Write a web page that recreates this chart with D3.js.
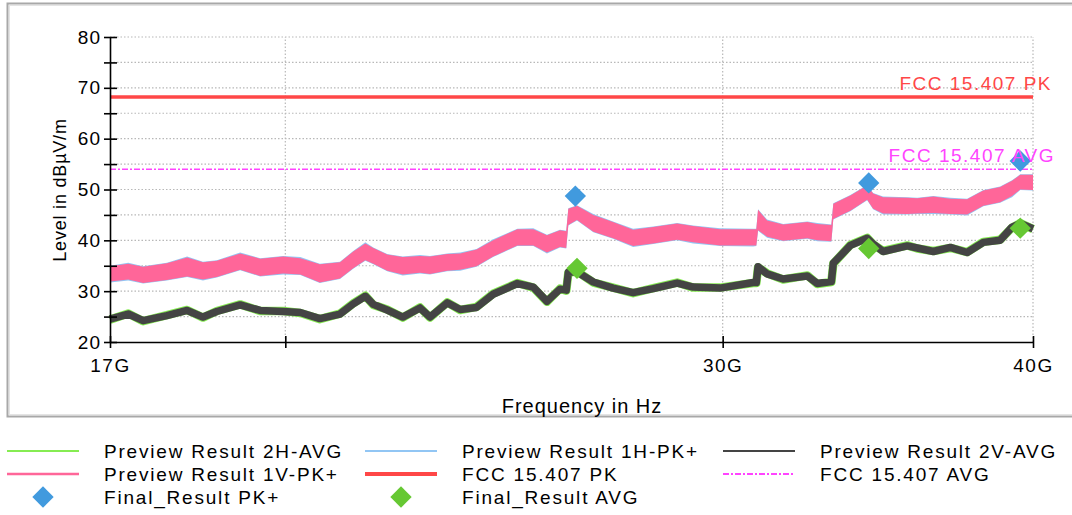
<!DOCTYPE html>
<html>
<head>
<meta charset="utf-8">
<script src="https://cdn.jsdelivr.net/npm/d3@7"></script>
<style>
  html, body { margin: 0; padding: 0; background: #fff; }
  svg text { font-family: "Liberation Sans", Arial, sans-serif; }
</style>
</head>
<body>
<svg id="chart" width="1072" height="515"></svg>
<script>
// Frequency grid of the preview scans, in GHz
const freqGHz = [17.00, 17.29, 17.53, 17.92, 18.26, 18.53, 18.77, 19.18, 19.54, 19.96,
  20.28, 20.65, 21.04, 21.30, 21.54, 21.70, 21.98, 22.30, 22.66, 22.87,
  23.24, 23.52, 23.88, 24.25, 24.80, 25.17, 25.49, 25.80, 25.95, 26.00,
  26.21, 26.61, 27.10, 27.61, 28.13, 28.76, 29.19, 29.93, 30.86, 30.95,
  31.00, 31.26, 31.73, 32.45, 32.75, 33.18, 33.24, 33.77, 34.30, 34.49,
  34.81, 35.60, 35.93, 36.47, 37.05, 37.63, 38.20, 38.80, 39.23, 39.53, 40.00];

// Preview Result 1V-PK+ : min / max envelope of the peak trace (dBµV/m)
const pk1VLo = [31.9, 32.3, 31.6, 32.2, 32.9, 32.3, 32.8, 34.2, 33.0, 33.5,
  33.3, 31.7, 32.5, 34.5, 36.1, 35.4, 34.0, 33.3, 33.6, 33.4,
  34.0, 34.2, 34.9, 36.8, 39.0, 39.0, 37.6, 38.7, 38.5, 43.0,
  44.0, 41.7, 40.4, 38.9, 39.4, 40.1, 39.6, 39.0, 39.0, 39.0,
  42.0, 40.7, 39.9, 40.4, 40.0, 39.8, 44.2, 45.8, 48.0, 46.2,
  45.3, 45.2, 45.3, 45.4, 45.2, 45.1, 46.8, 47.5, 48.7, 50.0, 49.9];
const pk1VHi = [34.9, 35.4, 34.8, 35.5, 36.6, 35.7, 36.0, 37.4, 36.4, 36.8,
  36.5, 35.3, 35.7, 37.8, 39.4, 38.5, 37.2, 36.7, 36.9, 36.8,
  37.3, 37.4, 38.2, 40.0, 42.2, 42.2, 41.0, 42.0, 41.8, 46.2,
  46.8, 45.0, 43.6, 42.1, 42.6, 43.3, 42.8, 42.2, 42.2, 42.2,
  46.0, 43.9, 43.1, 43.6, 43.2, 43.0, 47.2, 48.8, 50.8, 49.2,
  48.5, 48.4, 48.3, 48.6, 48.2, 48.1, 49.8, 50.5, 51.7, 52.9, 52.9];

// Preview Result 1H-PK+ : min / max envelope
const pk1HLo = [31.7, 32.1, 31.5, 32.1, 32.8, 32.1, 32.7, 34.1, 32.9, 33.3,
  33.2, 31.6, 32.4, 34.4, 36.0, 35.3, 33.9, 33.1, 33.5, 33.3,
  33.9, 34.0, 34.8, 36.7, 38.9, 38.9, 37.4, 38.6, 38.4, 42.9,
  43.9, 41.6, 40.3, 38.7, 39.3, 40.0, 39.4, 38.9, 38.8, 38.9,
  41.9, 40.5, 39.8, 40.3, 39.8, 39.7, 44.1, 45.7, 47.9, 46.1,
  45.1, 45.1, 45.2, 45.2, 45.1, 44.9, 46.7, 47.4, 48.5, 49.9, 49.8];
const pk1HHi = [35.0, 35.6, 34.9, 35.6, 36.8, 35.8, 36.1, 37.6, 36.5, 36.9,
  36.7, 35.4, 35.8, 37.9, 39.6, 38.6, 37.3, 36.8, 37.1, 36.9,
  37.4, 37.6, 38.3, 40.2, 42.3, 42.4, 41.1, 42.1, 41.9, 46.3,
  46.9, 45.2, 43.7, 42.3, 42.7, 43.4, 42.9, 42.4, 42.3, 42.3,
  46.1, 44.1, 43.2, 43.7, 43.4, 43.1, 47.3, 48.9, 50.9, 49.3,
  48.6, 48.5, 48.4, 48.7, 48.4, 48.2, 49.9, 50.6, 51.8, 53.0, 53.0];

// Preview Result 2V-AVG
const avg2V = [24.5, 25.5, 24.2, 25.2, 26.2, 24.9, 26.0, 27.3, 26.2, 26.0,
  25.8, 24.6, 25.5, 27.5, 29.0, 27.4, 26.3, 24.9, 26.7, 24.9,
  27.7, 26.4, 26.8, 29.4, 31.5, 30.8, 28.0, 30.4, 30.2, 33.7,
  33.8, 31.8, 30.6, 29.7, 30.5, 31.6, 30.8, 30.6, 31.7, 31.7,
  34.8, 33.4, 32.4, 33.0, 31.5, 31.9, 35.5, 39.0, 40.4, 39.3,
  37.8, 38.9, 38.5, 37.8, 38.6, 37.6, 39.6, 40.0, 42.6, 43.3, 42.3];

// Preview Result 2H-AVG
const avg2H = [24.4, 25.6, 24.1, 25.3, 26.3, 24.8, 26.1, 27.4, 26.1, 26.1,
  25.7, 24.5, 25.6, 27.6, 29.1, 27.3, 26.4, 24.8, 26.8, 24.8,
  27.8, 26.3, 26.9, 29.5, 31.6, 30.7, 27.9, 30.5, 30.1, 33.6,
  33.9, 31.7, 30.7, 29.6, 30.6, 31.7, 30.7, 30.7, 31.6, 31.6,
  34.7, 33.5, 32.3, 33.1, 31.4, 31.8, 35.4, 39.1, 40.5, 39.2,
  37.9, 39.0, 38.4, 37.9, 38.5, 37.7, 39.7, 40.1, 42.5, 43.4, 42.2];

// Limits
const limitPK = 68.2;
const limitAVG = 54.0;

// Final measurements
const finalPKFreq = [26.17, 34.35, 39.53];
const finalPKLevel = [48.7, 51.3, 55.6];
const finalAVGFreq = [26.21, 34.35, 39.53];
const finalAVGLevel = [34.5, 38.4, 42.4];

// Axis ticks
const xTickValues = [17, 20, 30, 40];
const xTickLabels = ["17G", "", "30G", "40G"];
const yTickValues = [20, 25, 30, 35, 40, 45, 50, 55, 60, 65, 70, 75, 80];

const C = {
  green: "#86ec52", blue: "#92c6f4", gray: "#444444", pink: "#ff6699",
  red: "#ff4747", magenta: "#ff44ff", dBlue: "#419ade", dGreen: "#66c833",
  grid: "#b8b8b8"
};

const svg = d3.select("#chart");

// Panel frame
svg.append("rect").attr("x", 7.5).attr("y", 3.5).attr("width", 1080).attr("height", 413)
  .attr("fill", "#fff").attr("stroke", "#a8a8a8").attr("stroke-width", 2);
svg.append("rect").attr("x", 9.5).attr("y", 5.5).attr("width", 1080).attr("height", 409)
  .attr("fill", "none").attr("stroke", "#e4e4e4").attr("stroke-width", 1);

const x = d3.scaleLog().domain([17, 40]).range([110, 1033]);
const y = d3.scaleLinear().domain([20, 80]).range([342, 37]);

// Grid
const grid = svg.append("g");
grid.selectAll("line.h").data(yTickValues.filter(v => v > 20)).join("line")
  .attr("x1", x(17)).attr("x2", x(40)).attr("y1", d => y(d)).attr("y2", d => y(d))
  .attr("stroke", C.grid).attr("stroke-width", 1.2).attr("stroke-dasharray", "1.5,2");
grid.selectAll("line.v").data(xTickValues.filter(v => v > 17)).join("line")
  .attr("x1", d => x(d)).attr("x2", d => x(d)).attr("y1", y(20)).attr("y2", y(80))
  .attr("stroke", C.grid).attr("stroke-width", 1.2).attr("stroke-dasharray", "1.5,2");

const rows = freqGHz.map((f, i) => ({
  f, pvLo: pk1VLo[i], pvHi: pk1VHi[i], phLo: pk1HLo[i], phHi: pk1HHi[i],
  a2v: avg2V[i], a2h: avg2H[i]
}));

const plot = svg.append("g");

// 2H-AVG (under 2V-AVG)
plot.append("path").datum(rows)
  .attr("d", d3.line().x(d => x(d.f)).y(d => y(d.a2h)))
  .attr("fill", "none").attr("stroke", C.green).attr("stroke-width", 8.5)
  .attr("stroke-linejoin", "round");
// 1H-PK+ envelope
plot.append("path").datum(rows)
  .attr("d", d3.area().x(d => x(d.f)).y0(d => y(d.phLo)).y1(d => y(d.phHi)))
  .attr("fill", C.blue);
// 2V-AVG
plot.append("path").datum(rows)
  .attr("d", d3.line().x(d => x(d.f)).y(d => y(d.a2v)))
  .attr("fill", "none").attr("stroke", C.gray).attr("stroke-width", 7.5)
  .attr("stroke-linejoin", "round");
// 1V-PK+ envelope
plot.append("path").datum(rows)
  .attr("d", d3.area().x(d => x(d.f)).y0(d => y(d.pvLo)).y1(d => y(d.pvHi)))
  .attr("fill", C.pink);

// Limit lines
plot.append("line").attr("x1", x(17)).attr("x2", x(40))
  .attr("y1", y(limitPK)).attr("y2", y(limitPK))
  .attr("stroke", C.red).attr("stroke-width", 3.5);
plot.append("line").attr("x1", x(17)).attr("x2", x(40))
  .attr("y1", y(limitAVG)).attr("y2", y(limitAVG))
  .attr("stroke", C.magenta).attr("stroke-width", 1.5).attr("stroke-dasharray", "6,2,2,2");

svg.append("text").attr("x", 1052).attr("y", y(limitPK) - 7)
  .attr("text-anchor", "end").attr("fill", C.red)
  .attr("font-size", 19).attr("letter-spacing", 1.5).text("FCC 15.407 PK");
svg.append("text").attr("x", 1055).attr("y", y(limitAVG) - 7)
  .attr("text-anchor", "end").attr("fill", C.magenta)
  .attr("font-size", 19).attr("letter-spacing", 1.5).text("FCC 15.407 AVG");

// Final result markers
const diamond = d3.symbol().type(d3.symbolDiamond2).size(290);
plot.selectAll("path.fpk").data(finalPKFreq).join("path")
  .attr("transform", (d, i) => `translate(${x(d)},${y(finalPKLevel[i])})`)
  .attr("d", diamond).attr("fill", C.dBlue);
plot.selectAll("path.favg").data(finalAVGFreq).join("path")
  .attr("transform", (d, i) => `translate(${x(d)},${y(finalAVGLevel[i])})`)
  .attr("d", diamond).attr("fill", C.dGreen);

// Axes
const xAxis = svg.append("g").attr("transform", `translate(0,${y(20)})`)
  .call(d3.axisBottom(x).tickValues(xTickValues).tickFormat((d, i) => xTickLabels[i])
    .tickSizeInner(6).tickSizeOuter(0).tickPadding(11));
xAxis.select(".domain").attr("stroke", "#000").attr("stroke-width", 1.6);
xAxis.selectAll(".tick line").attr("y1", -6).attr("y2", 6).attr("stroke-width", 1.6);
xAxis.selectAll(".tick text").attr("font-size", 19).attr("letter-spacing", 1.5)
  .attr("fill", "#000").attr("font-family", "Liberation Sans, Arial, sans-serif");

const yAxis = svg.append("g").attr("transform", `translate(${x(17)},0)`)
  .call(d3.axisLeft(y).tickValues(yTickValues).tickFormat(d => d % 10 === 0 ? d : "")
    .tickSizeInner(6).tickSizeOuter(0).tickPadding(3));
yAxis.select(".domain").attr("stroke", "#000").attr("stroke-width", 1.6);
yAxis.selectAll(".tick line").attr("x1", -6).attr("x2", 7).attr("stroke-width", 1.6);
yAxis.selectAll(".tick text").attr("font-size", 19).attr("letter-spacing", 1.0)
  .attr("fill", "#000").attr("font-family", "Liberation Sans, Arial, sans-serif");

// Axis titles
svg.append("text").attr("transform", "translate(66,190) rotate(-90)")
  .attr("text-anchor", "middle").attr("font-size", 18).attr("letter-spacing", 0.8)
  .text("Level in dBµV/m");
svg.append("text").attr("x", 582).attr("y", 413)
  .attr("text-anchor", "middle").attr("font-size", 20).attr("letter-spacing", 1.0)
  .text("Frequency in Hz");

// Legend
const legendItems = [
  { label: "Preview Result 2H-AVG", kind: "line", color: C.green, w: 2, col: 0, row: 0 },
  { label: "Preview Result 1H-PK+", kind: "line", color: C.blue, w: 2, col: 1, row: 0 },
  { label: "Preview Result 2V-AVG", kind: "line", color: C.gray, w: 2, col: 2, row: 0 },
  { label: "Preview Result 1V-PK+", kind: "line", color: C.pink, w: 2.5, col: 0, row: 1 },
  { label: "FCC 15.407 PK", kind: "line", color: C.red, w: 4, col: 1, row: 1 },
  { label: "FCC 15.407 AVG", kind: "dash", color: C.magenta, w: 2, col: 2, row: 1 },
  { label: "Final_Result PK+", kind: "diamond", color: C.dBlue, col: 0, row: 2 },
  { label: "Final_Result AVG", kind: "diamond", color: C.dGreen, col: 1, row: 2 }
];
const colX = [7, 365, 723];
const rowY = [451, 474, 497];
const lg = svg.append("g");
legendItems.forEach(it => {
  const gx = colX[it.col], gy = rowY[it.row];
  if (it.kind === "diamond") {
    lg.append("path").attr("transform", `translate(${gx + 36},${gy})`)
      .attr("d", diamond).attr("fill", it.color);
  } else {
    lg.append("line").attr("x1", gx).attr("x2", gx + 72).attr("y1", gy).attr("y2", gy)
      .attr("stroke", it.color).attr("stroke-width", it.w)
      .attr("stroke-dasharray", it.kind === "dash" ? "6,2,2,2" : null);
  }
  lg.append("text").attr("x", gx + 97).attr("y", gy + 7)
    .attr("font-size", 19).attr("letter-spacing", 1.8).attr("fill", "#000")
    .text(it.label);
});
</script>
</body>
</html>
